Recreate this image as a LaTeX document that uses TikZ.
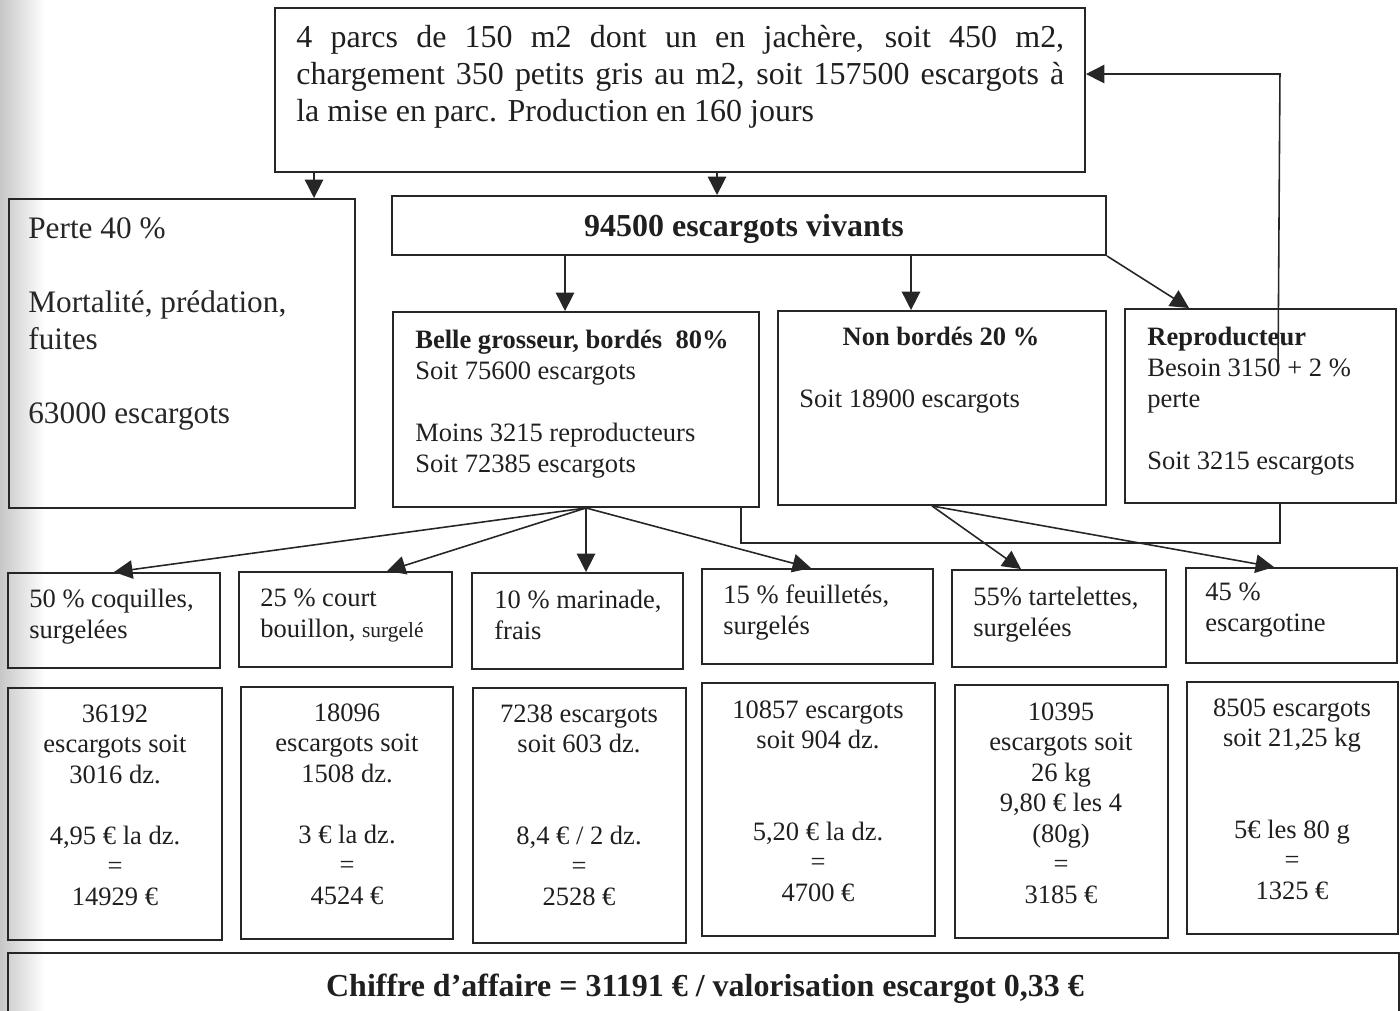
\documentclass[tikz,border=0pt]{standalone}
\usepackage{fontspec}
\setmainfont{Liberation Serif}
\usetikzlibrary{arrows.meta,calc,fit}

% stacked lines of text: prefix, x, first baseline, line step, list of lines
\newcommand\stackleft[6][txt]{%
  \foreach \t [count=\i] in {#6}
    \node[#1, anchor=base west] (#2-\i) at (#3, {#4+#5*(\i-1)}) {\t};}
\newcommand\stackmid[6][txt]{%
  \foreach \t [count=\i] in {#6}
    \node[#1, anchor=base] (#2-\i) at (#3, {#4+#5*(\i-1)}) {\t};}
% rectangle box between two corners
\newcommand\boxnode[5]{\node[box, fit={(#2,#3) (#4,#5)}] (#1) {};}

\begin{document}
\begin{tikzpicture}[x=0.02cm, y=-0.02cm,
  box/.style={draw=black!85, line width=1.1pt, inner sep=0pt},
  link/.style={draw=black!85, line width=0.9pt},
  arr/.style={link, -{Triangle[length=10.5pt, width=10.5pt]}},
  txt/.style={inner sep=0pt, text=black!88, font=\fontsize{15.1}{17.6}\selectfont},
  txtb/.style={txt, font=\fontsize{15.1}{17.6}\selectfont\bfseries},
  large/.style={inner sep=0pt, text=black!88, font=\fontsize{18.2}{21}\selectfont},
  largeb/.style={large, font=\fontsize{18.2}{21}\selectfont\bfseries},
  medium/.style={inner sep=0pt, text=black!85, font=\fontsize{17.8}{21}\selectfont}]

\useasboundingbox (0,0) rectangle (1400,1011);
% scanned page edge
\shade[left color=black!22, right color=white] (0,0) rectangle (45,1011);

% ---- boxes ----
\boxnode{top}{275}{8}{1085}{172}
\boxnode{perte}{9}{199}{355}{508}
\boxnode{viv}{392}{196}{1106}{255}
\boxnode{belle}{393}{312}{759}{507}
\boxnode{nonb}{778}{311}{1106}{505}
\boxnode{rep}{1125}{309}{1396}{503}

\boxnode{c1}{8}{573}{220}{668}
\boxnode{c2}{239}{572}{452}{667}
\boxnode{c3}{472}{573}{683}{669}
\boxnode{c4}{702}{569}{933}{664}
\boxnode{c5}{952}{570}{1166}{667}
\boxnode{c6}{1186}{568}{1397}{663}

\boxnode{d1}{8}{688}{222}{940}
\boxnode{d2}{241}{687}{453}{939}
\boxnode{d3}{473}{688}{686}{943}
\boxnode{d4}{702}{683}{935}{936}
\boxnode{d5}{955}{685}{1168}{938}
\boxnode{d6}{1187}{682}{1398}{934}

\boxnode{total}{8}{953}{1399}{1024}

% ---- texts ----
\node[large, anchor=base west] (top-1) at (296,47)
  {\makebox[15.36cm][s]{4 parcs de 150 m2 dont un en jachère, soit 450 m2,}};
\node[large, anchor=base west] (top-2) at (296,84)
  {\makebox[15.36cm][s]{chargement 350 petits gris au m2, soit 157500 escargots à}};
\node[large, anchor=base west] (top-3) at (296,121)
  {la mise en parc. Production en 160 jours};

\node[largeb, anchor=base] (viv-t) at (744,236) {94500 escargots vivants};

\stackleft[medium]{pt}{28}{238}{37}{{Perte 40 \%},{},{Mortalité, prédation,},{fuites},{},{63000 escargots}}

\node[txtb, anchor=base west] (bt-1) at (415,348) {Belle grosseur, bordés\ \ 80\%};
\stackleft{bt2}{415}{379}{31}{{Soit 75600 escargots},{},{Moins 3215 reproducteurs},{Soit 72385 escargots}}

\node[txtb, anchor=base] (nt-1) at (941,345) {Non bordés 20 \%};
\node[txt, anchor=base west] (nt-2) at (799,407) {Soit 18900 escargots};

\node[txtb, anchor=base west] (rt-1) at (1147,345) {Reproducteur};
\stackleft{rt2}{1147}{376}{31}{{Besoin 3150 + 2 \%},{perte},{},{Soit 3215 escargots}}

\stackleft{ct1}{29}{607}{31}{{50 \% coquilles,},{surgelées}}
\stackleft{ct2}{260}{606}{31}{{25 \% court},{bouillon, {\fontsize{12.2}{14}\selectfont surgelé}}}
\stackleft{ct3}{494}{608}{31}{{10 \% marinade,},{frais}}
\stackleft{ct4}{723}{603}{31}{{15 \% feuilletés,},{surgelés}}
\stackleft{ct5}{973}{605}{31}{{55\% tartelettes,},{surgelées}}
\stackleft{ct6}{1205}{600}{31}{{45 \%},{escargotine}}

\stackmid{dt1}{115}{722}{30.5}{{36192},{escargots soit},{3016 dz.},{},{4,95 € la dz.},{=},{14929 €}}
\stackmid{dt2}{347}{721}{30.5}{{18096},{escargots soit},{1508 dz.},{},{3 € la dz.},{=},{4524 €}}
\stackmid{dt3}{579}{722}{30.5}{{7238 escargots},{soit 603 dz.},{},{},{8,4 € / 2 dz.},{=},{2528 €}}
\stackmid{dt4}{818}{718}{30.5}{{10857 escargots},{soit 904 dz.},{},{},{5,20 € la dz.},{=},{4700 €}}
\stackmid{dt5}{1061}{720}{30.5}{{10395},{escargots soit},{26 kg},{9,80 € les 4},{(80g)},{=},{3185 €}}
\stackmid{dt6}{1292}{716}{30.5}{{8505 escargots},{soit 21,25 kg},{},{},{5€ les 80 g},{=},{1325 €}}

\node[largeb, anchor=base] (total-t) at (705,996)
  {Chiffre d’affaire = 31191 € / valorisation escargot 0,33 €};

% ---- connectors ----
\draw[arr] ($(top.south west)+(40,0)$) -- ($(perte.north west)+(306,0)$);
\draw[arr] ($(top.south west)+(443,0)$) -- ($(viv.north west)+(326,0)$);

\draw[arr] ($(viv.south west)+(174,0)$) -- ($(belle.north west)+(173,0)$);
\draw[arr] ($(viv.south west)+(520,0)$) -- ($(nonb.north west)+(134,0)$);
\draw[arr] (viv.south east) -- ($(rep.north west)+(65,0)$);

% reproducers sent back to the parks
\coordinate (fb-start) at ($(rep.north west)+(154,61)$);
\coordinate (fb-corner) at ($(top.north east)+(194,67)$);
\draw[arr] (fb-start) -- (fb-corner) -- (fb-corner -| top.east);

% bracket joining the breeders deduction
\coordinate (br-a) at ($(belle.south west)+(349,0)$);
\coordinate (br-b) at ($(rep.south west)+(156,0)$);
\coordinate (br-y) at (0,543);
\draw[link] (br-a) -- (br-a |- br-y) -- (br-b |- br-y) -- (br-b);

% split of the bordered snails
\coordinate (bs) at ($(belle.south west)+(194,0)$);
\draw[arr] (bs) -- ($(c1.north west)+(107,0)$);
\draw[arr] (bs) -- ($(c2.north west)+(149,0)$);
\draw[arr] (bs) -- ($(c3.north west)+(115,0)$);
\draw[arr] (bs) -- ($(c4.north west)+(110,0)$);

% split of the non-bordered snails
\coordinate (ns) at ($(nonb.south west)+(155,0)$);
\draw[arr] (ns) -- ($(c5.north west)+(70,0)$);
\draw[arr] (ns) -- ($(c6.north west)+(89,0)$);
\end{tikzpicture}
\end{document}
